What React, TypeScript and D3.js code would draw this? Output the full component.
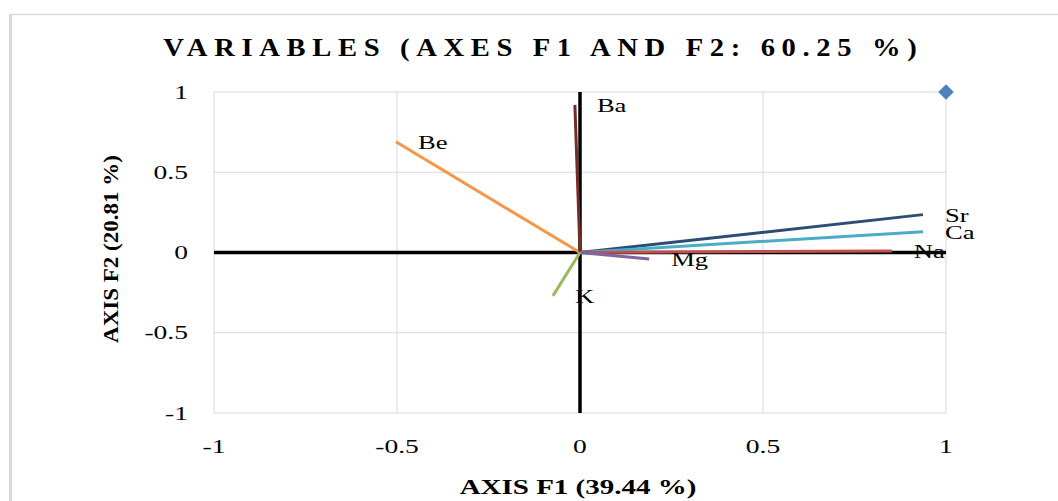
import React from "react";
import * as d3 from "d3";

// Correlation circle: loadings of each variable on factors F1 and F2
const variables = ["Be", "Ba", "Sr", "Ca", "Na", "Mg", "K"];
const f1Loadings = [-0.503, -0.014, 0.937, 0.937, 0.852, 0.189, -0.074];
const f2Loadings = [0.69, 0.92, 0.236, 0.13, 0.01, -0.04, -0.27];
const lineColors = ["#F79646", "#772C2A", "#2C4D75", "#4BACC6", "#C0504D", "#8064A2", "#9BBB59"];

const xTicks = [-1, -0.5, 0, 0.5, 1];
const yTicks = [-1, -0.5, 0, 0.5, 1];

const chartTitle = "VARIABLES (AXES F1 AND F2: 60.25 %)";
const xTitle = "AXIS F1 (39.44 %)";
const yTitle = "AXIS F2 (20.81 %)";

const W = 1058;
const H = 501;
const serif = "'Liberation Serif', 'Times New Roman', serif";

function Stretched({ x, y, sx, anchor, size, weight, children }: any) {
  return (
    <g transform={`translate(${x},${y}) scale(${sx},1)`}>
      <text
        textAnchor={anchor}
        fontFamily={serif}
        fontSize={size}
        fontWeight={weight || "normal"}
        fill="#000"
      >
        {children}
      </text>
    </g>
  );
}

export default function App() {
  const x = d3.scaleLinear().domain([-1, 1]).range([214, 946]);
  const y = d3.scaleLinear().domain([-1, 1]).range([413, 92]);
  const fmt = (v: number) => String(v);
  const diamond = d3.symbol().type(d3.symbolSquare).size(120)();

  return (
    <svg
      width={W}
      height={H}
      style={{ position: "absolute", left: 0, top: 0, background: "#fff" }}
    >
      {/* chart frame */}
      <line x1={9} x2={W} y1={14.5} y2={14.5} stroke="#d9d9d9" strokeWidth={1.5} />
      <line x1={10.5} x2={10.5} y1={14} y2={H} stroke="#d9d9d9" strokeWidth={3} />

      {/* title */}
      <g transform="translate(540,56) scale(1.1,1)">
        <text
          x={0}
          y={0}
          textAnchor="middle"
          fontFamily={serif}
          fontSize={26}
          fontWeight="bold"
          textLength={685}
          lengthAdjust="spacing"
        >
          {chartTitle}
        </text>
      </g>

      {/* grid */}
      {xTicks.map((t) => (
        <line key={"gx" + t} x1={x(t)} x2={x(t)} y1={y(1)} y2={y(-1)} stroke="#d9d9d9" strokeWidth={1} />
      ))}
      {yTicks.map((t) => (
        <line key={"gy" + t} x1={x(-1)} x2={x(1)} y1={y(t)} y2={y(t)} stroke="#d9d9d9" strokeWidth={1} />
      ))}

      {/* zero axes */}
      <line x1={x(0)} x2={x(0)} y1={y(1)} y2={y(-1)} stroke="#000" strokeWidth={3.5} />
      <line x1={x(-1)} x2={x(1)} y1={y(0)} y2={y(0)} stroke="#000" strokeWidth={3.5} />

      {/* tick labels */}
      {xTicks.map((t) => (
        <Stretched key={"tx" + t} x={x(t)} y={453} sx={1.45} anchor="middle" size={19}>
          {fmt(t)}
        </Stretched>
      ))}
      {yTicks.map((t) => (
        <Stretched key={"ty" + t} x={188} y={y(t) + 6.5} sx={1.45} anchor="end" size={19}>
          {fmt(t)}
        </Stretched>
      ))}

      {/* loading vectors */}
      {variables.map((v, i) => (
        <line
          key={"v" + v}
          x1={x(0)}
          y1={y(0)}
          x2={x(f1Loadings[i])}
          y2={y(f2Loadings[i])}
          stroke={lineColors[i]}
          strokeWidth={3}
        />
      ))}
      {variables.map((v, i) => (
        <Stretched
          key={"l" + v}
          x={x(f1Loadings[i]) + 22}
          y={y(f2Loadings[i]) + 7}
          sx={1.4}
          anchor="start"
          size={19}
        >
          {v}
        </Stretched>
      ))}

      {/* unit reference point */}
      <path d={diamond} transform={`translate(${x(1)},${y(1)}) rotate(45)`} fill="#4F81BD" />

      {/* axis titles */}
      <Stretched x={578} y={494} sx={1.45} anchor="middle" size={20} weight="bold">
        {xTitle}
      </Stretched>
      <g transform={`translate(118,249) rotate(-90)`}>
        <Stretched x={0} y={0} sx={1.15} anchor="middle" size={20} weight="bold">
          {yTitle}
        </Stretched>
      </g>
    </svg>
  );
}
